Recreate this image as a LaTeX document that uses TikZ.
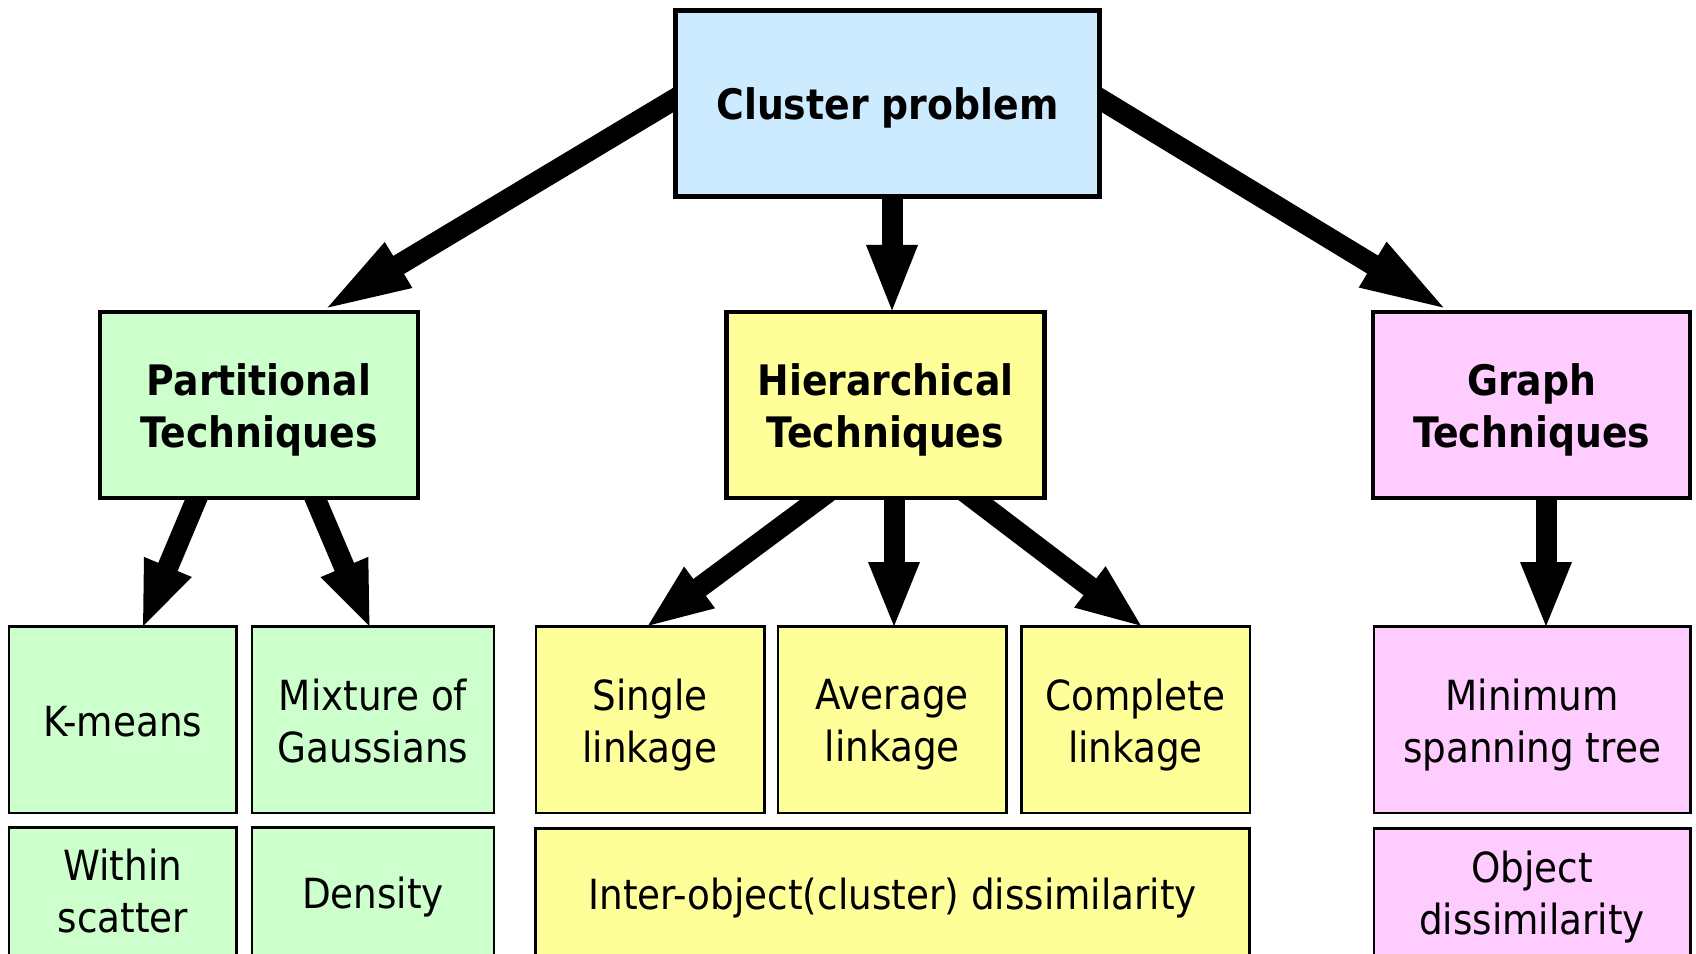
\documentclass[tikz,border=0pt]{standalone}
\usepackage{fontspec}
\setmainfont{DejaVu Sans Condensed}
\usetikzlibrary{arrows.meta,backgrounds}
\definecolor{cblue}{HTML}{CCEBFF}
\definecolor{cgreen}{HTML}{CCFFCC}
\definecolor{cyellow}{HTML}{FFFF99}
\definecolor{cpink}{HTML}{FFCCFF}
\begin{document}
\begin{tikzpicture}[x=1pt,y=-1pt,
 box/.style={draw=black, inner sep=0pt},
 txt/.style={align=center, inner sep=0pt, font=\fontsize{41.5}{52}\selectfont},
 btxt/.style={align=center, inner sep=0pt, font=\fontsize{42}{52}\selectfont\bfseries},
 topbox/.style={box, line width=4.5pt, minimum height=186pt},
 leafbox/.style={box, line width=2.5pt, minimum height=186.5pt},
 lowbox/.style={box, line width=2.5pt, minimum height=133.5pt},
 bt/.style 2 args={label={[btxt, yshift=-#1pt]center:#2}},
 rt/.style 2 args={label={[txt, yshift=-#1pt]center:#2}},
 arr/.style={line width=21pt, -{Triangle[length=68pt,width=46pt]}, shorten <=-14pt, shorten >=-5pt},
 longarr/.style={arr, -{Triangle[length=92pt,width=46pt]}}
]
\clip (0,0) rectangle (1696,953);
\node[topbox, fill=cblue, minimum width=424pt, bt={4.3}{Cluster problem}] (top) at (887.5,103.5) {};
\node[topbox, fill=cgreen, minimum width=318pt, bt={5.4}{Partitional\\Techniques}] (part) at (259,405) {};
\node[topbox, fill=cyellow, minimum width=318pt, bt={5.4}{Hierarchical\\Techniques}] (hier) at (885.5,405) {};
\node[topbox, fill=cpink, minimum width=317pt, bt={5.4}{Graph\\Techniques}] (graph) at (1531.6,405) {};
\node[leafbox, fill=cgreen, minimum width=227.5pt, rt={2.2}{K-means}] (km) at (122.8,719.5) {};
\node[leafbox, fill=cgreen, minimum width=242pt, rt={1.1}{Mixture of\\Gaussians}] (mix) at (373,719.5) {};
\node[leafbox, fill=cyellow, minimum width=228.5pt, rt={5.4}{Single\\linkage}] (single) at (650,719.5) {};
\node[leafbox, fill=cyellow, minimum width=228.5pt, rt={5.4}{Average\\linkage}] (avg) at (892.3,719.5) {};
\node[leafbox, fill=cyellow, minimum width=228.5pt, rt={5.4}{Complete\\linkage}] (comp) at (1135.5,719.5) {};
\node[leafbox, fill=cpink, minimum width=316.5pt, rt={5.4}{Minimum\\spanning tree}] (mst) at (1532,719.5) {};
\node[lowbox, fill=cgreen, minimum width=227.5pt, rt={-3}{Within\\scatter}] (within) at (122.8,894) {};
\node[lowbox, fill=cgreen, minimum width=242pt, rt={3.2}{Density}] (dens) at (373,894) {};
\node[lowbox, fill=cyellow, minimum width=714pt, rt={3.2}{Inter-object(cluster) dissimilarity}] (inter) at (892.7,895) {};
\node[lowbox, fill=cpink, minimum width=316.5pt, rt={2.5}{Object\\dissimilarity}] (obj) at (1532,895) {};
\begin{pgfonlayer}{background}
\fill[white] (0,0) rectangle (1696,953);
\draw[longarr] ([yshift=3.5pt]top.west) -- ([xshift=65pt]part.north);
\draw[arr, -{Triangle[length=70pt,width=46pt]}] ([xshift=4.5pt]top.south) -- ([xshift=6.5pt]hier.north);
\draw[longarr] ([yshift=3.5pt]top.east) -- ([xshift=-84.6pt]graph.north);
\draw[arr] ([xshift=-63pt]part.south) -- ([xshift=20.7pt]km.north);
\draw[arr] ([xshift=57pt]part.south) -- ([xshift=-4pt]mix.north);
\draw[arr] ([xshift=-68.5pt]hier.south) -- ([xshift=-1pt]single.north);
\draw[arr] ([xshift=8.5pt]hier.south) -- ([xshift=1.7pt]avg.north);
\draw[arr] ([xshift=90.5pt]hier.south) -- ([xshift=4.5pt]comp.north);
\draw[arr] ([xshift=14.4pt]graph.south) -- ([xshift=14pt]mst.north);
\end{pgfonlayer}
\end{tikzpicture}
\end{document}
